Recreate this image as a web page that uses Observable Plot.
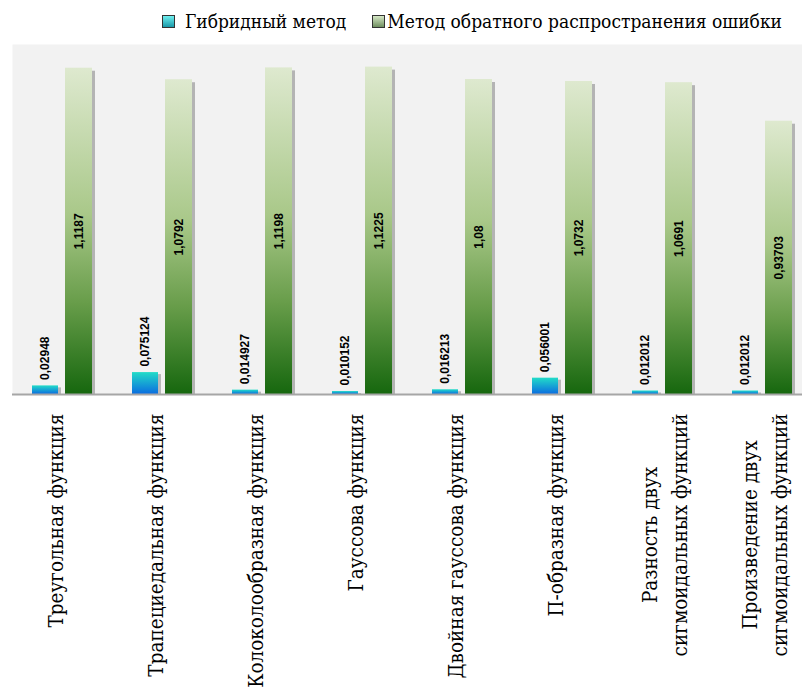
<!DOCTYPE html>
<html><head><meta charset="utf-8">
<script src="https://cdn.jsdelivr.net/npm/d3@7"></script>
<script src="https://cdn.jsdelivr.net/npm/@observablehq/plot@0.6"></script>
<style>
body{margin:0;background:#fff;width:802px;height:692px;overflow:hidden}
#legend{height:40px;display:flex;justify-content:flex-end;align-items:center;padding-right:20px;padding-top:2px;box-sizing:border-box;font-family:"DejaVu Serif Condensed","DejaVu Serif";font-stretch:condensed;font-size:19px;color:#000;white-space:nowrap}
.sw{width:11px;height:11px;border:1px solid #333;display:inline-block;flex:none}
#chart svg{display:block}
[font-family*="DejaVu Serif"]{font-stretch:condensed}
</style></head><body>
<svg width="0" height="0" style="position:absolute">
<defs>
<linearGradient id="gHyb" x1="0" y1="0" x2="0" y2="1">
<stop offset="0" stop-color="#22dcc8"/><stop offset="1" stop-color="#0a6ce0"/>
</linearGradient>
<linearGradient id="gBp" x1="0" y1="0" x2="0" y2="1">
<stop offset="0" stop-color="#dee9cf"/><stop offset="0.45" stop-color="#a9c889"/><stop offset="0.72" stop-color="#689d4a"/><stop offset="1" stop-color="#16670e"/>
</linearGradient>
</defs></svg>
<div id="legend"></div>
<div id="chart"></div>
<script>
const categories = [
  "Треугольная функция",
  "Трапециедальная функция",
  "Колоколообразная функция",
  "Гауссова функция",
  "Двойная гауссова функция",
  "П-образная функция",
  "Разность двух\nсигмоидальных функций",
  "Произведение двух\nсигмоидальных функций"
];
const hybrid = [0.02948, 0.075124, 0.014927, 0.010152, 0.016213, 0.056001, 0.012012, 0.012012];
const backprop = [1.1187, 1.0792, 1.1198, 1.1225, 1.08, 1.0732, 1.0691, 0.93703];
const seriesNames = ["Гибридный метод", "Метод обратного распространения ошибки"];

const rows = categories.map((c, i) => ({cat: c, hyb: hybrid[i], bp: backprop[i]}));
const fmt = v => String(v).replace(".", ",");
const single = categories.filter(c => !c.includes("\n"));
const double = categories.filter(c => c.includes("\n"));

// legend
const lg = document.getElementById("legend");
lg.innerHTML =
  `<span class="sw" style="background:linear-gradient(#6ff0f0,#1a98a8)"></span><span style="margin-left:10px">${seriesNames[0]}</span>` +
  `<span class="sw" style="margin-left:26px;background:linear-gradient(#d6e8c6,#6f8f60)"></span><span style="margin-left:2px">${seriesNames[1]}</span>`;

const serif = "'DejaVu Serif Condensed', 'DejaVu Serif'";
const labelFont = {fontFamily: serif, fontSize: 20.5, fill: "#000"};
const valFont = {fontFamily: "'Liberation Sans', Arial, sans-serif", fontSize: 12, fontWeight: "bold", fill: "#000"};

const svg = Plot.plot({
  width: 802, height: 652,
  marginTop: 4, marginBottom: 298, marginLeft: 12, marginRight: 0,
  x: {domain: categories, range: [12, 812], padding: 0, axis: null},
  y: {domain: [0, 1.2], axis: null},
  marks: [
    Plot.frame({fill: "#f2f2f2", stroke: null}),
    // shadows
    Plot.barY(rows, {x: "cat", y: "hyb", insetLeft: 20, insetRight: 54, insetTop: 2, dx: 3, fill: "#8a8a8a", fillOpacity: 0.55}),
    Plot.barY(rows, {x: "cat", y: "bp", insetLeft: 53, insetRight: 20, insetTop: 3, dx: 3, fill: "#8a8a8a", fillOpacity: 0.6}),
    // bars
    Plot.barY(rows, {x: "cat", y: "hyb", insetLeft: 20, insetRight: 54, fill: "url(#gHyb)"}),
    Plot.barY(rows, {x: "cat", y: "bp", insetLeft: 53, insetRight: 20, fill: "url(#gBp)"}),
    Plot.ruleY([0], {stroke: "#a6a6a6", strokeWidth: 2}),
    // value labels
    Plot.text(rows, {x: "cat", y: "hyb", text: d => fmt(d.hyb), rotate: -90, textAnchor: "start", dx: -17, dy: -6, ...valFont}),
    Plot.text(rows, {x: "cat", y: d => d.bp / 2, text: d => fmt(d.bp), rotate: -90, textAnchor: "middle", dx: 16.5, ...valFont}),
    // category labels
    Plot.text(single, {x: d => d, text: d => d, frameAnchor: "bottom", dy: 19, rotate: -90, textAnchor: "end", lineAnchor: "bottom", ...labelFont}),
    Plot.text(double, {x: d => d, text: d => d, frameAnchor: "bottom", dy: 19, rotate: -90, textAnchor: "end", lineAnchor: "middle", lineHeight: 1.45, ...labelFont})
  ]
});
document.getElementById("chart").append(svg);
svg.querySelectorAll("text").forEach(t => {
  const ts = t.querySelectorAll("tspan");
  if (ts.length > 1) {
    let m = 0;
    ts.forEach(s => { m = Math.max(m, s.getComputedTextLength()); });
    t.setAttribute("text-anchor", "middle");
    ts.forEach(s => s.setAttribute("x", -m / 2));
  }
});
</script>
</body></html>
